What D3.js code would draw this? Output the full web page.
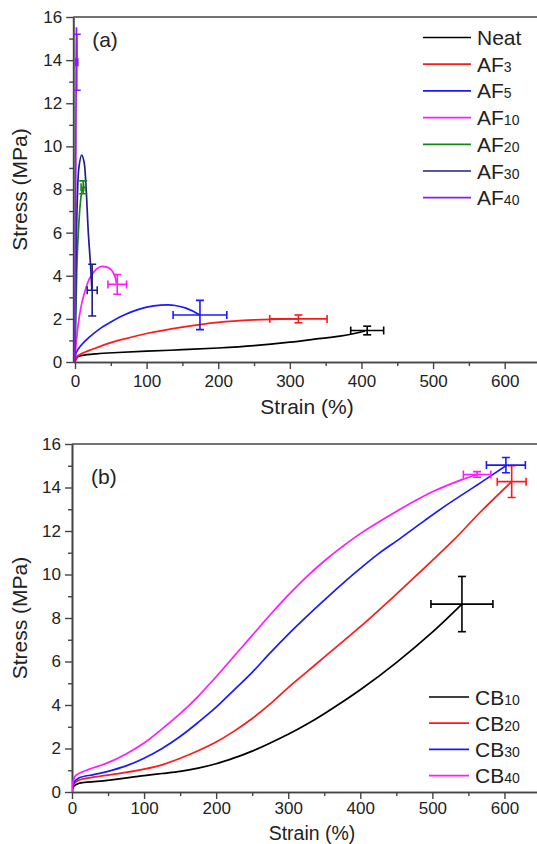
<!DOCTYPE html>
<html>
<head>
<meta charset="utf-8">
<script src="https://cdn.jsdelivr.net/npm/d3@7"></script>
<style>
  html, body { margin: 0; padding: 0; background: #fff; }
  svg { display: block; }
  text { font-family: 'Liberation Sans', Arial, sans-serif; fill: #222; }
</style>
</head>
<body>
<svg id="chart" width="537" height="844"></svg>
<script>
// ---- Panel (a): stress–strain curves, [strain %, stress MPa] ----
const neat = [[0,0],[3,0.22],[10,0.3],[30,0.38],[60,0.44],[100,0.5],[150,0.57],[200,0.65],[250,0.76],[300,0.92],[340,1.08],[370,1.2],[390,1.32],[405,1.44]];
const af3  = [[0,0],[3,0.25],[10,0.4],[25,0.6],[50,0.9],[75,1.12],[100,1.32],[150,1.62],[200,1.84],[250,1.95],[300,2.0],[312,2.0]];
const af5  = [[0,0],[2,0.45],[8,0.75],[20,1.15],[35,1.55],[50,1.85],[70,2.2],[90,2.45],[110,2.6],[130,2.65],[140,2.62],[155,2.5],[165,2.35],[174,2.18]];
const af10 = [[0,0],[1,0.6],[3,1.3],[6,2.1],[10,2.8],[15,3.4],[20,3.85],[27,4.2],[35,4.42],[42,4.42],[50,4.3],[55,4.05],[58,3.65]];
const af20 = [[0,0],[1,2],[2,3.5],[3,4.8],[5,6.2],[7,7.2],[9,7.8],[11,8.1]];
const af30 = [[0,0],[1.4,4.4],[3.2,7.5],[5.6,9.06],[9.3,9.6],[12.6,9.29],[15.4,8.13],[18.6,6.0],[21.9,4.4],[23.5,3.34]];
const af40 = [[0,0],[0.6,5],[1.2,10],[1.7,14],[2.1,15.5],[2.4,14.8],[2.5,13.9]];

// end points with error bars: [strain, stress, strainErr, stressErr]
const afErr = {
  neat: [408, 1.46, 23, 0.2],
  af3:  [312, 2.0, 40, 0.18],
  af5:  [174.5, 2.18, 37.5, 0.68],
  af10: [59, 3.6, 13, 0.46],
  af20: [11.5, 8.1, 3, 0.3],
  af30: [24, 3.33, 7, 1.2],
  af40: [2.5, 13.9, 1.5, 1.3]
};

const afNames  = ["Neat", "AF3", "AF5", "AF10", "AF20", "AF30", "AF40"];
const afKeys   = ["neat", "af3", "af5", "af10", "af20", "af30", "af40"];
const afCurves = [neat, af3, af5, af10, af20, af30, af40];
const afColors = ["#000000", "#ff1a1a", "#1a1aff", "#ff1aff", "#108a10", "#1f1f88", "#8a1aff"];

// ---- Panel (b) ----
const cb10 = [[0,0],[2,0.25],[10,0.4],[40,0.5],[100,0.75],[125,0.85],[150,0.95],[175,1.1],[200,1.3],[225,1.57],[250,1.88],[275,2.25],[300,2.65],[325,3.1],[350,3.6],[400,4.7],[450,5.95],[500,7.35],[541,8.64]];
const cb20 = [[0,0],[2,0.35],[10,0.55],[30,0.68],[50,0.78],[75,0.9],[100,1.05],[125,1.25],[150,1.55],[175,1.9],[200,2.3],[225,2.8],[250,3.38],[275,4.05],[300,4.8],[325,5.5],[350,6.2],[400,7.6],[450,9.1],[500,10.65],[530,11.6],[566,12.85],[610,14.27]];
const cb30 = [[0,0],[2,0.4],[10,0.65],[30,0.8],[50,0.95],[75,1.2],[100,1.55],[125,2.0],[150,2.55],[175,3.2],[200,3.9],[225,4.7],[250,5.5],[275,6.4],[300,7.25],[325,8.05],[350,8.82],[375,9.57],[400,10.28],[425,10.95],[455,11.65],[490,12.5],[520,13.2],[566,14.2],[602,15.0]];
const cb40 = [[0,0],[2,0.55],[5,0.75],[20,1.0],[50,1.35],[75,1.75],[100,2.25],[125,2.9],[150,3.6],[175,4.4],[200,5.3],[225,6.25],[250,7.2],[275,8.15],[300,9.05],[325,9.88],[350,10.62],[375,11.28],[400,11.88],[450,12.9],[500,13.8],[540,14.35],[562,14.6]];

const cbErr = {
  cb10: [541, 8.64, 43, 1.27],
  cb20: [610, 14.27, 20, 0.73],
  cb30: [602, 15.03, 27, 0.35],
  cb40: [562, 14.6, 19, 0.13]
};

const cbNames  = ["CB10", "CB20", "CB30", "CB40"];
const cbKeys   = ["cb10", "cb20", "cb30", "cb40"];
const cbCurves = [cb10, cb20, cb30, cb40];
const cbColors = ["#000000", "#ff1a1a", "#1a1aff", "#ff1aff"];

// axis ticks
const xMajor = [0, 100, 200, 300, 400, 500, 600];
const xMinor = [50, 150, 250, 350, 450, 550];
const yMajor = [0, 2, 4, 6, 8, 10, 12, 14, 16];
const yMinor = [1, 3, 5, 7, 9, 11, 13, 15];

const svg = d3.select("#chart");
const axisColor = "#444";

function drawPanel(cfg) {
  const x = d3.scaleLinear().domain(cfg.xDomain).range(cfg.xRange);
  const y = d3.scaleLinear().domain([0, 16]).range(cfg.yRange);
  const g = svg.append("g");
  const left = cfg.xRange[0], right = cfg.xRange[1];
  const top = cfg.yRange[1], bottom = cfg.yRange[0];

  g.append("clipPath").attr("id", cfg.id + "-clip")
    .append("rect").attr("x", left).attr("y", top - 2)
    .attr("width", right - left).attr("height", bottom - top + 2);

  // axes
  g.append("g").attr("transform", `translate(0,${bottom})`)
    .call(d3.axisBottom(x).tickValues(xMajor).tickSize(7).tickPadding(cfg.xPad).tickSizeOuter(0).tickFormat(d3.format("d")));
  g.append("g").attr("transform", `translate(0,${bottom})`)
    .call(d3.axisBottom(x).tickValues(xMinor).tickSize(4).tickSizeOuter(0).tickFormat(""));
  g.append("g").attr("transform", `translate(${left},0)`)
    .call(d3.axisLeft(y).tickValues(yMajor).tickSize(7).tickPadding(4).tickSizeOuter(0).tickFormat(d3.format("d")));
  g.append("g").attr("transform", `translate(${left},0)`)
    .call(d3.axisLeft(y).tickValues(yMinor).tickSize(4).tickSizeOuter(0).tickFormat(""));
  g.selectAll(".domain").attr("stroke", axisColor).attr("stroke-width", 1.6);
  g.selectAll(".tick line").attr("stroke", axisColor).attr("stroke-width", 1.4);
  g.selectAll(".tick text").attr("fill", "#222").style("font-size", "17px")
    .style("font-family", "'Liberation Sans', Arial, sans-serif");
  // top frame
  g.append("line").attr("x1", left).attr("x2", right).attr("y1", top).attr("y2", top)
    .attr("stroke", axisColor).attr("stroke-width", 1.6);

  // axis titles
  g.append("text").attr("x", cfg.xTitleX).attr("y", cfg.xTitleY)
    .attr("text-anchor", "middle").style("font-size", cfg.xTitleSize).text("Strain (%)");
  g.append("text").attr("transform", `translate(27,${(top + bottom) / 2}) rotate(-90)`)
    .attr("text-anchor", "middle").style("font-size", "21px").text("Stress (MPa)");
  g.append("text").attr("x", left + 19).attr("y", top + cfg.labelDy)
    .style("font-size", "21px").text(cfg.label);

  // curves
  const line = d3.line().x(d => x(d[0])).y(d => y(d[1])).curve(d3.curveCatmullRom.alpha(0.5));
  const plot = g.append("g").attr("clip-path", `url(#${cfg.id}-clip)`);
  cfg.curves.forEach((c, i) => {
    plot.append("path").datum(c).attr("fill", "none")
      .attr("stroke", cfg.colors[i]).attr("stroke-width", 1.7)
      .attr("stroke-linejoin", "round").attr("d", line);
  });

  // error bars
  cfg.keys.forEach((k, i) => {
    const [sx, sy, ex, ey] = cfg.errs[k];
    const col = cfg.colors[i];
    const eb = plot.append("g").attr("stroke", col).attr("stroke-width", 1.6).attr("fill", "none");
    const cx = x(sx), cy = y(sy), cap = 4;
    eb.append("line").attr("x1", x(sx - ex)).attr("x2", x(sx + ex)).attr("y1", cy).attr("y2", cy);
    eb.append("line").attr("x1", x(sx - ex)).attr("x2", x(sx - ex)).attr("y1", cy - cap).attr("y2", cy + cap);
    eb.append("line").attr("x1", x(sx + ex)).attr("x2", x(sx + ex)).attr("y1", cy - cap).attr("y2", cy + cap);
    eb.append("line").attr("x1", cx).attr("x2", cx).attr("y1", y(sy - ey)).attr("y2", y(sy + ey));
    eb.append("line").attr("x1", cx - cap).attr("x2", cx + cap).attr("y1", y(sy - ey)).attr("y2", y(sy - ey));
    eb.append("line").attr("x1", cx - cap).attr("x2", cx + cap).attr("y1", y(sy + ey)).attr("y2", y(sy + ey));
  });

  // legend
  const lg = g.append("g");
  cfg.names.forEach((n, i) => {
    const ly = cfg.legendY + i * cfg.legendStep;
    lg.append("line").attr("x1", cfg.legendX).attr("x2", cfg.legendX + cfg.legendLen)
      .attr("y1", ly).attr("y2", ly).attr("stroke", cfg.colors[i]).attr("stroke-width", 1.7);
    const t = lg.append("text").attr("x", cfg.legendX + cfg.legendLen + 6).attr("y", ly + 7.5).style("font-size", "21px");
    const m = n.match(/^([A-Za-z]+)(\d*)$/);
    t.append("tspan").text(m[1]);
    if (m[2]) t.append("tspan").style("font-size", "14px").text(m[2]);
  });
}

drawPanel({
  id: "pa", label: "(a)", labelDy: 30,
  xDomain: [-2.5, 650], xRange: [73.2, 540.5], yRange: [362, 17],
  xPad: 6, xTitleX: 307, xTitleY: 414, xTitleSize: "21px",
  curves: afCurves, colors: afColors, keys: afKeys, errs: afErr, names: afNames,
  legendX: 423, legendLen: 48, legendY: 37.5, legendStep: 26.7
});

drawPanel({
  id: "pb", label: "(b)", labelDy: 40,
  xDomain: [0, 650], xRange: [72, 540.5], yRange: [792, 444],
  xPad: 3, xTitleX: 312, xTitleY: 839.5, xTitleSize: "19.5px",
  curves: cbCurves, colors: cbColors, keys: cbKeys, errs: cbErr, names: cbNames,
  legendX: 429, legendLen: 40, legendY: 697, legendStep: 26.2
});
</script>
</body>
</html>
